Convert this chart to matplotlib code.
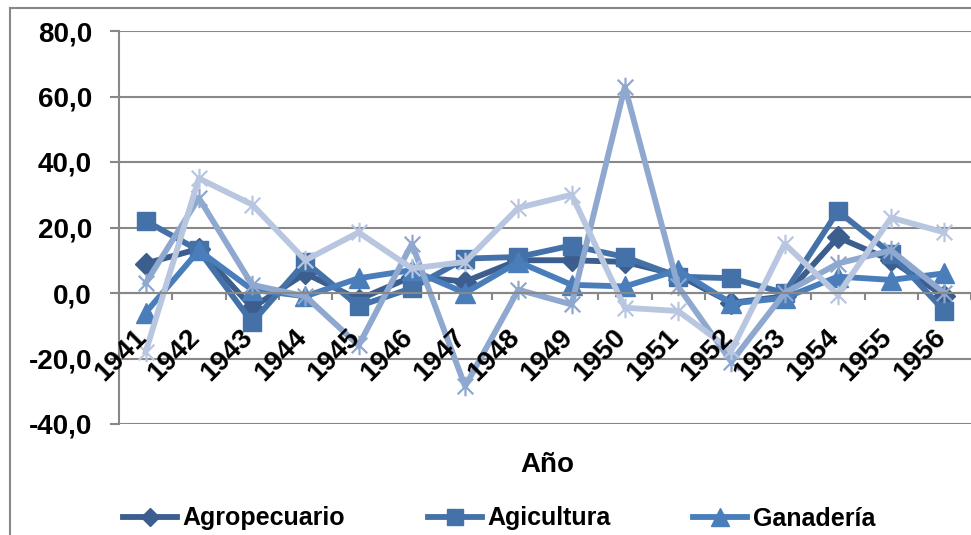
import matplotlib
matplotlib.use("Agg")
import matplotlib.pyplot as plt
from matplotlib.path import Path
from matplotlib.lines import Line2D
import numpy as np

years = ["1941", "1942", "1943", "1944", "1945", "1946", "1947", "1948",
         "1949", "1950", "1951", "1952", "1953", "1954", "1955", "1956"]
agropecuario = [9, 13.5, -4.5, 6, -2, 5, 3.5, 10, 10, 9.5, 5.5, -3, -1, 17, 10, -1]
agicultura = [22, 13, -9, 9.5, -4, 1.5, 10.5, 11, 14.5, 11, 5, 4.5, 0, 25, 12, -5.5]
ganaderia = [-6, 13, 1, -1, 4.5, 7, 0, 9.5, 2.5, 2, 7, -3.2, -1.5, 5, 4, 6]
silvicultura = [3, 29, 2.5, -1, -16, 15, -28.5, 1, -3.5, 63, 2, -21, 0, 9, 13, 0]
pesca = [-18, 35, 27, 10, 18.5, 7.5, 9.5, 26, 30, -4.5, -5.5, -17.5, 15, -0.5, 23, 18.5]

names = ["Agropecuario", "Agicultura", "Ganadería", "Silvicultura", "Pesca"]
series = [agropecuario, agicultura, ganaderia, silvicultura, pesca]
colors = ["#3B5E8E", "#4472A8", "#4A7EBB", "#8EA8CF", "#B8C6E0"]

star = Path([(-1, -1), (1, 1), (-1, 1), (1, -1), (0, -1.25), (0, 1.25)],
            [Path.MOVETO, Path.LINETO, Path.MOVETO, Path.LINETO, Path.MOVETO, Path.LINETO])
markers = ["D", "s", "^", star, star]
msizes = [11, 13.5, 14.5, 14, 14]

plt.rcParams["font.family"] = ["Liberation Sans", "DejaVu Sans"]
plt.rcParams["font.weight"] = "bold"

fig = plt.figure(figsize=(9.71, 5.35), dpi=100)
W, H = 971, 535
ax = fig.add_axes([119 / W, 1 - 424 / H, (971 - 119) / W, (424 - 31) / H])

x = np.arange(len(years))
handles = []
for vals, name, c, m, ms in zip(series, names, colors, markers, msizes):
    if m is star:
        h, = ax.plot(x, vals, color=c, lw=4.2, marker=m, ms=ms, mfc="none",
                     mec=c, mew=1.6, label=name, solid_joinstyle="round")
    else:
        h, = ax.plot(x, vals, color=c, lw=4.2, marker=m, ms=ms, mfc=c,
                     mec=c, mew=1, label=name, solid_joinstyle="round")
    handles.append(h)

ax.set_xlim(-0.5, len(years) - 0.5)
ax.set_ylim(-40, 80)
yt = [-40, -20, 0, 20, 40, 60, 80]
ax.set_yticks(yt)
ax.set_yticklabels([f"{v:.1f}".replace(".", ",") for v in yt])
ax.grid(axis="y", color="#888888", lw=1.5)
ax.set_axisbelow(True)
for s in ["top", "right"]:
    ax.spines[s].set_visible(False)
ax.spines["left"].set_color("#888888")
ax.spines["left"].set_linewidth(1.5)
ax.spines["bottom"].set_position(("data", 0))
ax.spines["bottom"].set_color("#888888")
ax.spines["bottom"].set_linewidth(1.5)
ax.tick_params(axis="y", length=6.5, width=1.5, color="#888888", pad=13,
               labelsize=20, labelcolor="black")
ax.set_xticks(np.arange(-0.5, len(years), 1.0))
ax.set_xticklabels([])
ax.tick_params(axis="x", length=5, width=1.5, color="#888888", direction="out")
for i, lab in enumerate(years):
    ax.text(i + 0.12, -9.5, lab, rotation=45, ha="right", va="top",
            fontsize=20, fontweight="bold", rotation_mode="default")

fig.text(547 / W, 1 - 465 / H, "Año", ha="center", va="center",
         fontsize=20, fontweight="bold")

# Only the first legend row is visible in the reference (the rest is cut off)
leg = fig.legend(handles[:3], names[:3],
                 ncol=3, loc="upper left", bbox_to_anchor=(100 / W, 1 - 484 / H),
                 frameon=False, fontsize=18, handlelength=2.16,
                 handletextpad=0.24, columnspacing=3.3, labelspacing=0.6)
for lh in leg.legend_handles:
    lh.set_markersize(lh.get_markersize() * 0.85)

fig.add_artist(Line2D([10 / W, 10 / W], [0, 1 - 8 / H], transform=fig.transFigure,
                      color="#888888", lw=1.5))
fig.add_artist(Line2D([10 / W, 1], [1 - 8 / H, 1 - 8 / H], transform=fig.transFigure,
                      color="#888888", lw=1.5))

fig.savefig("out.png", dpi=100)
